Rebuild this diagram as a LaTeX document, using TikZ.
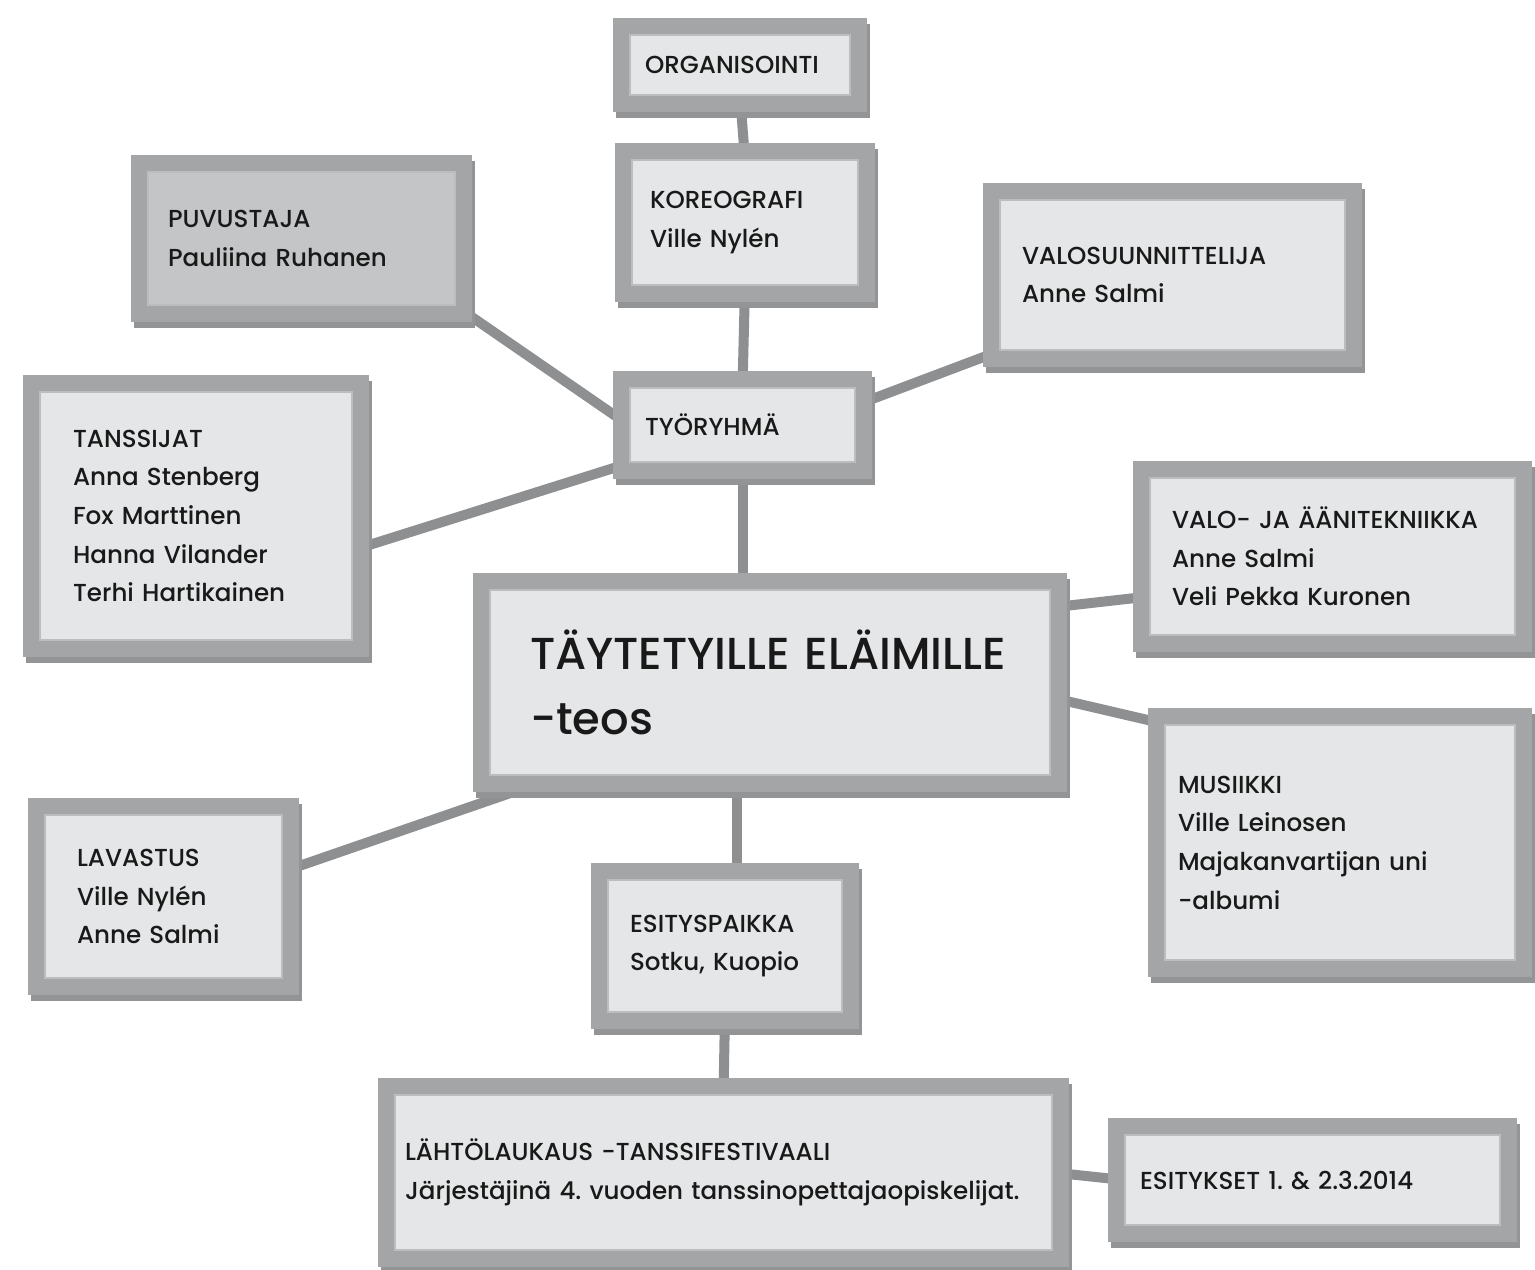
\documentclass[tikz,border=0pt]{standalone}
\usepackage{fontspec}
\setmainfont{Poppins}[UprightFont=* Medium]
\frenchspacing

\definecolor{cardfill}{HTML}{E5E6E7}
\definecolor{cardfilldark}{HTML}{C4C5C7}
\definecolor{cardframe}{HTML}{A4A5A7}
\definecolor{cardshadow}{HTML}{939496}
\definecolor{cardline}{HTML}{BCBDBF}
\definecolor{linkgray}{HTML}{8E8F91}

\pgfdeclarelayer{background}
\pgfsetlayers{background,main}

\tikzset{
	card/.style={rectangle, fill=cardfill, draw=cardline, line width=1.5pt,
		preaction={draw=cardshadow, line width=0.7cm, transform canvas={xshift=0.06cm, yshift=-0.12cm}},
		preaction={draw=cardframe, line width=0.7cm},
		inner xsep=0.4cm, align=left, text=black!90,
		font=\fontsize{14}{22}\selectfont},
	link/.style={draw=linkgray, line width=0.2cm},
}

\begin{document}
\begin{tikzpicture}[x=0.02cm, y=-0.02cm]
		\useasboundingbox (0, 0) rectangle (1535, 1270);
		
		\node [card, text width=3.8cm, inner xsep=0.3cm, minimum height=1.2cm] (ORG) at (740, 65) {ORGANISOINTI};
		\node [card, text width=3.8cm, inner xsep=0.36cm, minimum height=2.5cm] (KOR) at (745, 222.5) {KOREOGRAFI\\Ville Nylén};
		\node [card, fill=cardfilldark, text width=5.34cm, minimum height=2.66cm] (PUV) at (301.5, 238.5) {PUVUSTAJA\\Pauliina Ruhanen};
		\node [card, text width=6.02cm, inner xsep=0.44cm, minimum height=3cm] (VAL) at (1172.5, 275) {VALOSUUNNITTELIJA\\Anne Salmi};
		\node [card, text width=3.9cm, inner xsep=0.3cm, minimum height=1.48cm] (TYO) at (742.5, 425) {TYÖRYHMÄ};
		\node [card, text width=4.92cm, inner xsep=0.66cm, minimum height=4.96cm] (TAN) at (196, 516) {TANSSIJAT\\Anna Stenberg\\Fox Marttinen\\Hanna Vilander\\Terhi Hartikainen};
		\node [card, text width=9.6cm, inner xsep=0.8cm, minimum height=3.7cm, font=\fontsize{25.5}{37}\selectfont] (TEOS) at (770, 682.5) {TÄYTETYILLE~ELÄIMILLE\\-teos};
		\node [card, text width=6.42cm, inner xsep=0.44cm, minimum height=3.14cm] (VAT) at (1332.5, 556.5) {VALO-~JA~ÄÄNITEKNIIKKA\\Anne Salmi\\Veli Pekka Kuronen};
		\node [card, text width=6.48cm, inner xsep=0.26cm, minimum height=4.7cm] (MUS) at (1340, 842.5) {MUSIIKKI\\Ville Leinosen\\Majakanvartijan uni\\-albumi};
		\node [card, text width=3.46cm, inner xsep=0.64cm, minimum height=3.26cm] (LAV) at (163.5, 896.5) {LAVASTUS\\Ville Nylén\\Anne Salmi};
		\node [card, text width=3.8cm, inner xsep=0.44cm, minimum height=2.64cm] (ESP) at (725, 946) {ESITYSPAIKKA\\Sotku, Kuopio};
		\node [card, text width=12.74cm, inner xsep=0.2cm, minimum height=3.1cm] (LAH) at (723.5, 1172.5) {LÄHTÖLAUKAUS -TANSSIFESTIVAALI\\Järjestäjinä~4. vuoden tanssinopettajaopiskelijat.};
		\node [card, text width=6.9cm, inner xsep=0.3cm, minimum height=1.8cm] (ESI) at (1312.5, 1180) {ESITYKSET~1.~\&~2.3.2014};
		
		\begin{pgfonlayer}{background}
		\fill [white] (0, 0) rectangle (1535, 1270);
		\draw [link] (ORG.south) -- (KOR.north);
		\draw [link] (KOR.south) -- (TYO.north);
		\draw [link] (PUV.south east) -- (TYO.west);
		\draw [link] (VAL.south west) -- ([yshift=0.4cm]TYO.east);
		\draw [link] ([yshift=-0.68cm]TAN.east) -- (TYO.south west);
		\draw [link] (TYO.south) -- (TYO.south |- TEOS.north);
		\draw [link] ([yshift=1.5cm]TEOS.east) -- ([yshift=-0.8cm]VAT.west);
		\draw [link] ([yshift=-0.3cm]TEOS.east) -- (MUS.north west);
		\draw [link] ([xshift=1.4cm]TEOS.south west) -- ([yshift=0.5cm]LAV.east);
		\draw [link] ([xshift=0.24cm]ESP.north |- TEOS.south) -- ([xshift=0.24cm]ESP.north);
		\draw [link] (ESP.south) -- (LAH.north);
		\draw [link] (LAH.east) -- (ESI.west);
		\end{pgfonlayer}
\end{tikzpicture}
\end{document}
